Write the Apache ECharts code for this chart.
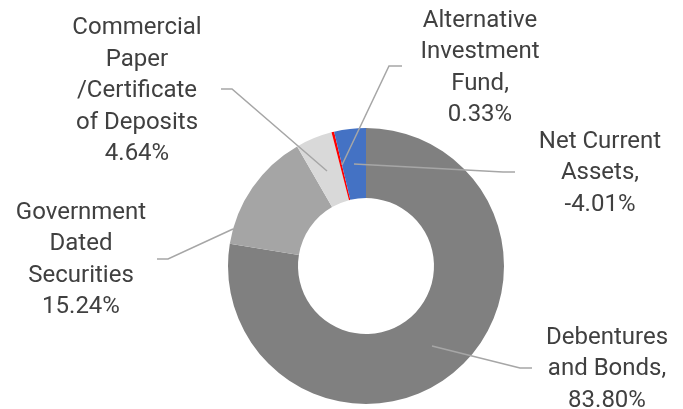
<!DOCTYPE html>
<html>
<head>
<meta charset="utf-8">
<script src="https://cdn.jsdelivr.net/npm/echarts@6/dist/echarts.min.js"></script>
<style>
  html, body { margin: 0; padding: 0; background: #fff; }
  #chart { width: 683px; height: 409px; }
</style>
</head>
<body>
<div id="chart"></div>
<script>
// Portfolio allocation by asset class (% of net assets)
const categories = [
  'Debentures\nand Bonds',
  'Government\nDated\nSecurities',
  'Commercial\nPaper\n/Certificate\nof Deposits',
  'Alternative\nInvestment\nFund',
  'Net Current\nAssets'
];
const allocation = [83.80, 15.24, 4.64, 0.33, -4.01];
const nameSuffix = [',', '', '', ',', ','];
const sliceColors = ['#808080', '#a5a5a5', '#d9d9d9', '#ff0000', '#4472c4'];

// Where each data label sits and how its leader line runs (pixels)
const labelPlacement = [
  { x: 607, y: 369, line: [[432, 346], [520, 368], [532, 368]] },
  { x: 81,  y: 260, line: [[233, 229], [168, 259], [157, 259]] },
  { x: 137, y: 91,  line: [[327, 171], [232, 89], [221, 89]] },
  { x: 480, y: 68,  line: [[342, 165], [389, 66], [402, 66]] },
  { x: 600, y: 173, line: [[354, 164], [503, 172], [515, 172]] }
];

const pieBase = {
  type: 'pie',
  center: [366, 266],
  radius: [68, 138],
  startAngle: 90,
  clockwise: true,
  avoidLabelOverlap: false,
  silent: true,
  emphasis: { disabled: true }
};

const chart = echarts.init(document.getElementById('chart'), null, { renderer: 'canvas' });

chart.setOption({
  animation: false,
  backgroundColor: '#ffffff',
  series: [
    // The ring itself
    Object.assign({}, pieBase, {
      z: 2,
      data: categories.map((name, i) => ({
        name: name,
        value: Math.abs(allocation[i]),
        itemStyle: { color: sliceColors[i] }
      })),
      label: { show: false },
      labelLine: { show: false }
    }),
    // Same slices, invisible, carrying the data labels and leader lines on top
    Object.assign({}, pieBase, {
      z: 5,
      data: categories.map((name, i) => ({
        name: name,
        value: Math.abs(allocation[i]),
        itemStyle: { color: 'rgba(0,0,0,0)' }
      })),
      label: {
        show: true,
        position: 'outside',
        fontFamily: 'Roboto',
        fontSize: 24,
        lineHeight: 31.5,
        color: '#404040',
        align: 'center',
        formatter: p => p.name + nameSuffix[p.dataIndex] + '\n' +
          allocation[p.dataIndex].toFixed(2) + '%'
      },
      labelLine: {
        show: true,
        lineStyle: { color: '#a6a6a6', width: 1.5 }
      },
      labelLayout: p => {
        const L = labelPlacement[p.dataIndex];
        return {
          x: L.x,
          y: L.y,
          align: 'center',
          verticalAlign: 'middle',
          labelLinePoints: L.line
        };
      }
    })
  ]
});
</script>
</body>
</html>
